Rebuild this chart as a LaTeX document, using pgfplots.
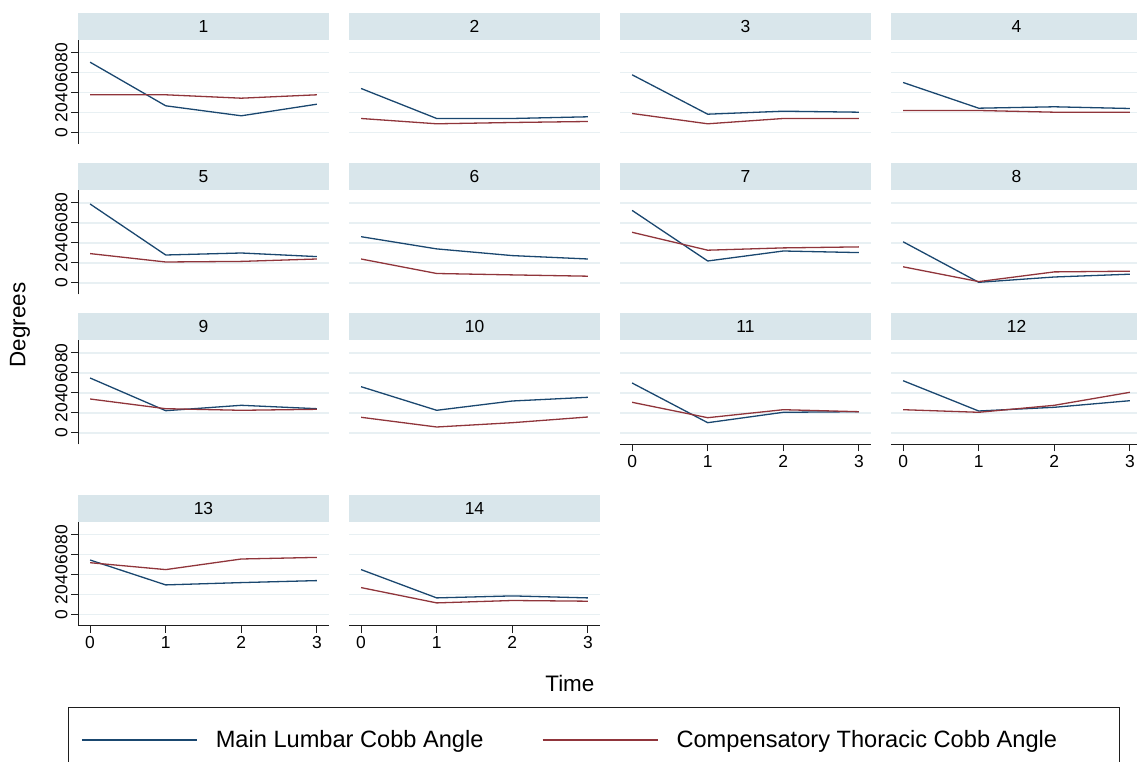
\documentclass[border=0pt]{standalone}
\usepackage{pgfplots}
\pgfplotsset{compat=1.18}
\usepackage{fontspec}
\setmainfont{Liberation Sans}
\definecolor{navyc}{RGB}{26,71,111}
\definecolor{maroonc}{RGB}{144,53,59}
\definecolor{stripc}{RGB}{217,230,235}
\definecolor{gridc}{RGB}{232,240,243}
\definecolor{axisc}{RGB}{30,30,30}
\newcommand{\fs}[1]{\fontsize{#1}{#1}\selectfont}
\pgfplotsset{
  panel/.style={
    scale only axis, width=251bp, height=104bp, anchor=south west,
    xmin=-0.16, xmax=3.16, ymin=-11.5, ymax=92.5,
    xtick={0,1,2,3}, ytick={0,20,40,60,80},
    ymajorgrids, grid style={gridc, line width=1.3bp},
    axis lines*=left, axis line style={-, draw=axisc, line width=1bp},
    tick align=outside, major tick length=7bp,
    every tick/.style={axisc, line width=1bp},
    tick label style={font=\fs{17.5}},
    /pgf/number format/assume math mode=true,
    yticklabel style={rotate=90, anchor=south},
    every axis title/.style={at={(0.5,1)}, anchor=south, fill=stripc,
      minimum width=251bp, minimum height=27bp, inner sep=0pt, font=\fs{17.5}},
  },
  nox/.style={x axis line style={draw=none}, xtick style={draw=none}, xticklabels={}},
  noy/.style={y axis line style={draw=none}, ytick style={draw=none}, yticklabels={}},
  bl/.style={navyc, line width=1.3bp, mark=none},
  rd/.style={maroonc, line width=1.3bp, mark=none},
}
\begin{document}
\begin{tikzpicture}
\useasboundingbox (0bp,0bp) rectangle (1137bp,762bp);
\clip (0bp,0bp) rectangle (1137bp,762bp);
% Row 1
\begin{axis}[panel, nox, at={(78bp,618bp)}, title={1}]
\addplot[bl] coordinates {(0,70.3) (1,26.7) (2,16.7) (3,28.3)};
\addplot[rd] coordinates {(0,37.7) (1,37.7) (2,34.3) (3,37.7)};
\end{axis}
\begin{axis}[panel, nox, noy, at={(349bp,618bp)}, title={2}]
\addplot[bl] coordinates {(0,44) (1,14) (2,14) (3,15.7)};
\addplot[rd] coordinates {(0,14) (1,8.7) (2,10) (3,11)};
\end{axis}
\begin{axis}[panel, nox, noy, at={(620bp,618bp)}, title={3}]
\addplot[bl] coordinates {(0,57.7) (1,18.3) (2,21.3) (3,20.3)};
\addplot[rd] coordinates {(0,19) (1,8.7) (2,14) (3,14)};
\end{axis}
\begin{axis}[panel, nox, noy, at={(891bp,618bp)}, title={4}]
\addplot[bl] coordinates {(0,50) (1,24.3) (2,25.7) (3,24)};
\addplot[rd] coordinates {(0,22) (1,22) (2,20.3) (3,20.3)};
\end{axis}
% Row 2
\begin{axis}[panel, nox, at={(78bp,467.5bp)}, title={5},
  ylabel={Degrees},
  every axis y label/.style={at={(axis description cs:-0.231,-0.293)}, rotate=90, anchor=center, font=\fs{22.5}}]
\addplot[bl] coordinates {(0,79) (1,28) (2,30) (3,26.4)};
\addplot[rd] coordinates {(0,29.4) (1,21) (2,21.6) (3,24)};
\end{axis}
\begin{axis}[panel, nox, noy, at={(349bp,467.5bp)}, title={6}]
\addplot[bl] coordinates {(0,46.3) (1,34.1) (2,27.4) (3,24)};
\addplot[rd] coordinates {(0,24) (1,9.5) (2,8.1) (3,6.8)};
\end{axis}
\begin{axis}[panel, nox, noy, at={(620bp,467.5bp)}, title={7}]
\addplot[bl] coordinates {(0,72.6) (1,22) (2,32) (3,30.4)};
\addplot[rd] coordinates {(0,50.7) (1,32.8) (2,35.1) (3,36.1)};
\end{axis}
\begin{axis}[panel, nox, noy, at={(891bp,467.5bp)}, title={8}]
\addplot[bl] coordinates {(0,41.2) (1,0.7) (2,6) (3,8.8)};
\addplot[rd] coordinates {(0,16.2) (1,1.4) (2,11.1) (3,11.8)};
\end{axis}
% Row 3
\begin{axis}[panel, nox, at={(78bp,317.5bp)}, title={9}]
\addplot[bl] coordinates {(0,55) (1,22.3) (2,27.7) (3,24.3)};
\addplot[rd] coordinates {(0,34) (1,24.3) (2,22.7) (3,23.7)};
\end{axis}
\begin{axis}[panel, nox, noy, at={(349bp,317.5bp)}, title={10}]
\addplot[bl] coordinates {(0,46.3) (1,22.7) (2,32) (3,35.7)};
\addplot[rd] coordinates {(0,15.7) (1,6) (2,10.3) (3,16)};
\end{axis}
\begin{axis}[panel, noy, at={(620bp,317.5bp)}, title={11}]
\addplot[bl] coordinates {(0,50) (1,10.3) (2,20.7) (3,21.3)};
\addplot[rd] coordinates {(0,30.7) (1,15.3) (2,23.3) (3,21.3)};
\end{axis}
\begin{axis}[panel, noy, at={(891bp,317.5bp)}, title={12}]
\addplot[bl] coordinates {(0,52.3) (1,22) (2,25.7) (3,32.3)};
\addplot[rd] coordinates {(0,23.3) (1,20.7) (2,27.7) (3,40.7)};
\end{axis}
% Row 4
\begin{axis}[panel, at={(78bp,136bp)}, title={13}]
\addplot[bl] coordinates {(0,54.5) (1,29.6) (2,31.9) (3,33.9)};
\addplot[rd] coordinates {(0,51.8) (1,44.9) (2,55.5) (3,57.1)};
\end{axis}
\begin{axis}[panel, noy, at={(349bp,136bp)}, title={14},
  xlabel={Time},
  every axis x label/.style={at={(axis description cs:0.880,-0.548)}, anchor=center, font=\fs{22.5}},
  legend columns=2,
  legend image code/.code={\draw[#1, line width=2bp] (0bp,0bp) -- (115bp,0bp);},
  legend style={at={(axis description cs:0.976,-0.779)}, anchor=north,
    draw=axisc, line width=1bp, font=\fs{23.7}, inner xsep=12bp, inner ysep=21bp,
    nodes={inner xsep=0pt},
    /tikz/every odd column/.append style={column sep=18bp},
    /tikz/every even column/.append style={column sep=58bp}},
  legend cell align=left]
\addplot[bl] coordinates {(0,44.9) (1,16.6) (2,18.6) (3,16.6)};
\addlegendentry{Main Lumbar Cobb Angle}
\addplot[rd] coordinates {(0,26.9) (1,11.6) (2,14) (3,13.3)};
\addlegendentry{Compensatory Thoracic Cobb Angle\rule{50bp}{0pt}}
\end{axis}
\end{tikzpicture}
\end{document}
